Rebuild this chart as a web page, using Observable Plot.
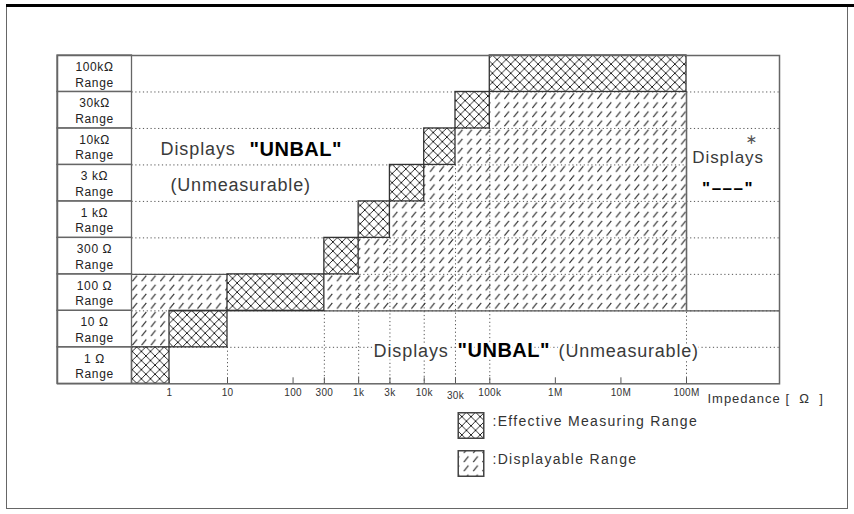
<!DOCTYPE html>
<html><head><meta charset="utf-8">
<script src="https://cdn.jsdelivr.net/npm/d3@7"></script>
<script src="https://cdn.jsdelivr.net/npm/@observablehq/plot@0.6"></script>
<style>
body{margin:0;background:#fff;}
#wrap{position:relative;width:854px;height:514px;overflow:hidden}
#border{position:absolute;left:6px;top:5px;width:842px;height:504px;border-left:1.5px solid #666;border-right:1.5px solid #666;border-bottom:1.5px solid #666;box-sizing:border-box;pointer-events:none}
#topline{position:absolute;left:6px;top:4px;width:848px;height:3px;background:#000;pointer-events:none}
</style></head><body><div id="wrap"><div id="border"></div><div id="topline"></div></div>
<script>
// ---- data ----
const ranges = ["100kΩ","30kΩ","10kΩ","3 kΩ","1 kΩ","300 Ω","100 Ω","10 Ω","1 Ω"];
const LO = 0.3, HI = 1e9, COL = 0.05;           // axis ends (left edge of plot, right edge) and label column edge
const effLow  = [1e5, 3e4, 1e4, 3e3, 1e3, 300, 10, 1, LO];
const effHigh = [1e8, 1e5, 3e4, 1e4, 3e3, 1e3, 300, 10, 1];
const dispRange = ["30kΩ","10kΩ","3 kΩ","1 kΩ","300 Ω","100 Ω","100 Ω","10 Ω"];
const dispLow   = [1e5, 3e4, 1e4, 3e3, 1e3, 300, LO, LO];
const dispHigh  = [1e8, 1e8, 1e8, 1e8, 1e8, 1e8, 10, 1];
const tickValues = [1,10,100,300,1e3,3e3,1e4,3e4,1e5,1e6,1e7,1e8];
const tickLabels = ["1","10","100","300","1k","3k","10k","30k","100k","1M","10M","100M"];
const gridBoundary = [1,2,3,4,5,6,7,8];
const gridEnd = [HI,HI,1e8,HI,HI,HI,HI,HI];
// annotations: text, x, y(row units), anchor, style group, size
const noteText   = ["Displays", "\"UNBAL\"", "(Unmeasurable)", "Displays", "\"UNBAL\"", "(Unmeasurable)", "∗", "Displays", "\"–––\""];
const noteX      = [0.75, 21.7, 1.04, 1687, 32200, 1.12e6, 5.0e8, 2.8e8, 2.8e8];
const noteY      = [2.57, 2.57, 3.56, 8.1, 8.1, 8.1, 2.3, 2.8, 3.64];
const noteAnchor = ["start","start","start","start","start","start","middle","middle","middle"];
const noteGroup  = ["regular","bold","regular","regular","bold","regular","star","right","dash"];
const noteSize   = [18, 20, 18, 18, 20, 18, 14, 17, 17];
const legendText = [":Effective Measuring Range", ":Displayable Range"];
const legendFill = ["url(#cross)", "url(#slash)"];
const impLabel = "Impedance [  Ω  ]";

const ROWS = ranges.length;
const idx = r => ranges.indexOf(r);
const eff = ranges.map((r, i) => ({i, lo: effLow[i], hi: effHigh[i]}));
const disp = dispRange.map((r, k) => ({i: idx(r), lo: dispLow[k], hi: dispHigh[k]}));
const ticks = tickValues.map((v, i) => ({v, label: tickLabels[i]}));
const notes = noteText.map((t, i) => ({t, x: noteX[i], y: noteY[i], a: noteAnchor[i], g: noteGroup[i], s: noteSize[i]}));

const dotted = {stroke: "#555", strokeWidth: 1, strokeDasharray: "1.2,2.6"};
const textMarks = notes.map(n => {
  const bold = n.g === "bold" || n.g === "dash";
  return Plot.text([n], {
    x: "x", y: "y", text: "t", textAnchor: n.a, fontSize: n.s,
    fontFamily: n.g === "star" ? "'DejaVu Sans', sans-serif" : undefined,
    fontWeight: bold ? "bold" : "normal", fill: bold ? "#000" : (n.g === "star" ? "#555" : "#3a3a3a"),
    stroke: "white", strokeWidth: 5
  });
});

const chart = Plot.plot({
  width: 854, height: 514,
  marginLeft: 57, marginRight: 75, marginTop: 55, marginBottom: 130.7,
  x: {type: "log", domain: [COL, LO, 1, 10, 1e8, HI], range: [57, 131.5, 169, 227, 686, 779], axis: null},
  y: {type: "linear", domain: [0, ROWS], range: [55, 383.3], axis: null},
  style: {fontFamily: "'Liberation Sans', Arial, sans-serif", background: "transparent", color: "#222", overflow: "visible"},
  marks: [
    Plot.ruleY(gridBoundary, {y: d => d, x1: LO, x2: (d, i) => gridEnd[i], ...dotted}),
    Plot.ruleX(eff, {x: "hi", y1: d => d.i + 1, y2: ROWS, ...dotted}),
    Plot.rect(disp, {x1: "lo", x2: "hi", y1: "i", y2: d => d.i + 1, fill: "url(#slash)"}),
    Plot.ruleY([7], {y: d => d, x1: 1, x2: HI, stroke: "#555", strokeWidth: 1.3}),
    Plot.ruleY([6], {y: d => d, x1: LO, x2: 10, stroke: "#555", strokeWidth: 1.3}),
    Plot.ruleX([1e8], {x: d => d, y1: 1, y2: 7, stroke: "#666", strokeWidth: 1.6}),
    Plot.rect(eff, {x1: "lo", x2: "hi", y1: "i", y2: d => d.i + 1, fill: "url(#cross)", stroke: "#333", strokeWidth: 1.3}),
    Plot.rect(ranges, {x1: COL, x2: LO, y1: (d, i) => i, y2: (d, i) => i + 1, stroke: "#666", strokeWidth: 1.3, fill: "none"}),
    Plot.text(ranges, {frameAnchor: "left", dx: 37, y: (d, i) => i + 0.5, textAnchor: "middle", text: d => d + "\nRange", fontSize: 12, lineHeight: 1.3, fill: "#222"}),
    Plot.frame({stroke: "#666", strokeWidth: 1.5}),
    Plot.ruleX(tickValues, {x: d => d, y1: ROWS, y2: ROWS, insetTop: -6, stroke: "#555", strokeWidth: 1}),
    Plot.text(ticks.filter(d => d.label !== "30k"), {x: "v", y: ROWS, dy: 9, text: "label", fontSize: 10, fill: "#333"}),
    Plot.text(ticks.filter(d => d.label === "30k"), {x: "v", y: ROWS, dy: 12, text: "label", fontSize: 10, fill: "#333"}),
    Plot.text([impLabel], {x: 1.68e8, y: ROWS, dy: 15, text: d => d, textAnchor: "start", fontSize: 13, fill: "#333"}),
    ...textMarks,
    Plot.dot(legendFill, {x: null, y: null, frameAnchor: "bottom-left", dx: 413.5, dy: 41.7, r: 14.4, symbol: "square", fill: legendFill[0], stroke: "#444", filter: (d, i) => i === 0}),
    Plot.dot(legendFill, {x: null, y: null, frameAnchor: "bottom-left", dx: 413.5, dy: 79.7, r: 14.4, symbol: "square", fill: legendFill[1], stroke: "#444", filter: (d, i) => i === 1}),
    Plot.text([legendText[0]], {x: null, y: null, frameAnchor: "bottom-left", dx: 435, dy: 41.7, text: d => d, textAnchor: "start", fontSize: 14, fill: "#333"}),
    Plot.text([legendText[1]], {x: null, y: null, frameAnchor: "bottom-left", dx: 435, dy: 79.7, text: d => d, textAnchor: "start", fontSize: 14, fill: "#333"})
  ]
});

d3.select(chart).insert("defs", ":first-child").html(
  `<pattern id="cross" patternUnits="userSpaceOnUse" x="0" y="55" width="9.12" height="9.12">
     <path d="M0,0L9.12,9.12M9.12,0L0,9.12" stroke="#111" stroke-width="0.9" fill="none"/>
   </pattern>
   <pattern id="slash" patternUnits="userSpaceOnUse" x="0" y="55" width="9.3" height="9.12">
     <path d="M2.2,7.4L6.8,1.8" stroke="#222" stroke-width="1.1" fill="none"/>
   </pattern>`);

// letter spacing to mimic the wide original typeface
const spacing = new Map([
  ["Displays", 0.9], ["(Unmeasurable)", 0.8], ["\"UNBAL\"", 0.5], ["\"–––\"", 1.5],
  [impLabel, 1], [legendText[0], 1.3], [legendText[1], 1.3]
]);
d3.select(chart).selectAll("text").each(function() {
  const t = this.textContent;
  let s = spacing.get(t);
  if (s === undefined && /Range$/.test(t)) s = 0.6;
  if (s === undefined && tickLabels.includes(t)) s = 0.3;
  if (s !== undefined) this.style.letterSpacing = s + "px";
});
document.getElementById("wrap").insertBefore(chart, document.getElementById("border"));
</script></body></html>
